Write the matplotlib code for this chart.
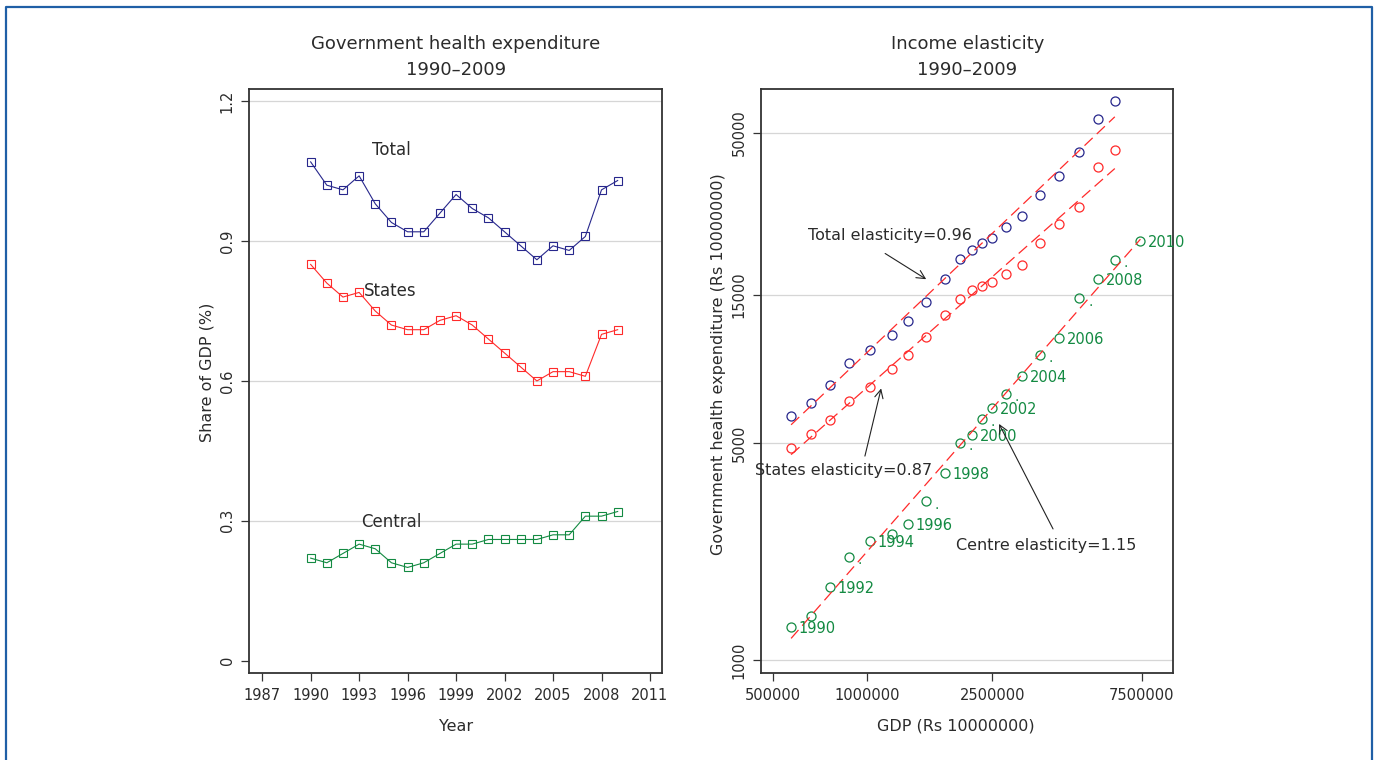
# 导入必要的库
import numpy as np
import matplotlib
matplotlib.use('Agg')
import matplotlib.pyplot as plt
from matplotlib.lines import Line2D
from matplotlib.ticker import NullLocator

plt.rcParams['font.family'] = ['DejaVu Sans']

# 左图数据：占GDP的比重 (%)
years = list(range(1990, 2010))
share_total = [1.07, 1.02, 1.01, 1.04, 0.98, 0.94, 0.92, 0.92, 0.96, 1.00,
               0.97, 0.95, 0.92, 0.89, 0.86, 0.89, 0.88, 0.91, 1.01, 1.03]
share_states = [0.85, 0.81, 0.78, 0.79, 0.75, 0.72, 0.71, 0.71, 0.73, 0.74,
                0.72, 0.69, 0.66, 0.63, 0.60, 0.62, 0.62, 0.61, 0.70, 0.71]
share_central = [0.22, 0.21, 0.23, 0.25, 0.24, 0.21, 0.20, 0.21, 0.23, 0.25,
                 0.25, 0.26, 0.26, 0.26, 0.26, 0.27, 0.27, 0.31, 0.31, 0.32]

# 右图数据：GDP 与政府卫生支出 (Rs 10000000)
gdp = [571000, 661500, 759000, 874500, 1018000, 1196000, 1345000, 1539000,
       1765000, 1970000, 2157000, 2322000, 2504000, 2769000, 3108000,
       3554000, 4096000, 4742000, 5454000, 6151000, 7424000]
exp_total = [6105, 6743, 7683, 9071, 10009, 11127, 12346, 14211, 16904, 19609,
             20960, 22076, 22909, 24785, 26970, 31580, 36360, 43440, 55480, 63070]
exp_states = [4829, 5358, 5957, 6859, 7592, 8677, 9623, 11000, 12947, 14604,
              15578, 16048, 16483, 17546, 18797, 22076, 25338, 28890, 38660, 43860]
exp_centre = [1277, 1386, 1727, 2157, 2416, 2559, 2755, 3251, 4012, 5023, 5303,
              6000, 6512, 7208, 8211, 9623, 10917, 14637, 16943, 19465, 22455]
centre_years = list(range(1990, 2011))
# 奇数年份只显示一个小点（1991、1995 被相邻标签遮住）
dot_years = [1993, 1997, 1999, 2001, 2003, 2005, 2007, 2009]

x_ticks_left = list(range(1987, 2012, 3))
y_ticks_left = [0, 0.3, 0.6, 0.9, 1.2]
y_labels_left = ['0', '0.3', '0.6', '0.9', '1.2']
x_ticks_right = [500000, 1000000, 2500000, 7500000]
y_ticks_right = [1000, 5000, 15000, 50000]

navy = '#27278c'
red = '#ff2a2a'
green = '#138a42'
txt = '#2b2b2b'

fig = plt.figure(figsize=(13.74, 7.6), dpi=100)
ax1 = fig.add_axes([0.1814, 0.1145, 0.3006, 0.7688])
ax2 = fig.add_axes([0.5539, 0.1145, 0.3001, 0.7688])

# 外框
fig.add_artist(Line2D([0.0044, 0.0044, 0.9985, 0.9985], [0, 0.9908, 0.9908, 0],
                      transform=fig.transFigure, color='#1f5fa6', lw=1.6))

# ---------- 左图 ----------
for vals, col, name, pos in [(share_total, navy, 'Total', (1995, 1.095)),
                             (share_states, red, 'States', (1994.9, 0.794)),
                             (share_central, green, 'Central', (1995, 0.298))]:
    ax1.plot(years, vals, color=col, lw=0.8, marker='s', ms=5.5, mfc='none',
             mec=col, mew=0.8)
    ax1.text(pos[0], pos[1], name, ha='center', va='center', fontsize=12, color=txt)

ax1.set_xlim(1986.2, 2011.76)
ax1.set_ylim(-0.0264, 1.227)
ax1.set_xticks(x_ticks_left)
ax1.set_yticks(y_ticks_left)
ax1.set_yticklabels(y_labels_left)
ax1.yaxis.grid(True, color='#d6d6d6', lw=0.9)
ax1.get_ygridlines()[0].set_visible(False)
ax1.set_xlabel('Year', fontsize=11.5, color=txt)
ax1.set_ylabel('Share of GDP (%)', fontsize=11.5, color=txt)
ax1.xaxis.set_label_coords(0.5, -0.0914)
ax1.yaxis.set_label_coords(-0.103, 0.515)
ax1.text(0.5, 1.077, 'Government health expenditure', transform=ax1.transAxes,
         ha='center', va='center', fontsize=13, color=txt)
ax1.text(0.5, 1.0325, '1990\u20132009', transform=ax1.transAxes,
         ha='center', va='center', fontsize=13, color=txt)

# ---------- 右图 ----------
ax2.set_xscale('log')
ax2.set_yscale('log')
gdp = np.array(gdp)
for ex, col in [(exp_total, navy), (exp_states, red), (exp_centre, green)]:
    gx = gdp[:len(ex)]
    ey = np.array(ex)
    ax2.plot(gx, ey, ls='none', marker='o', ms=6.5, mfc='none', mec=col, mew=0.9)
    # 对数线性拟合 (弹性)
    b, a = np.polyfit(np.log(gx), np.log(ey), 1)
    xs = np.array([gx.min(), gx.max()])
    ax2.plot(xs, np.exp(a) * xs ** b, color=red, lw=0.9, ls=(0, (9, 4.5)))

# 中央支出的年份标签
for g, e, yr in zip(gdp, exp_centre, centre_years):
    if yr % 2 == 0:
        ax2.annotate(str(yr), (g, e), xytext=(5.5, -1), textcoords='offset points',
                     ha='left', va='center', fontsize=10.5, color=green)
    elif yr in dot_years:
        ax2.annotate('.', (g, e), xytext=(6.3, -5.3), textcoords='offset points',
                     ha='left', va='baseline', fontsize=10, color=green)

# 弹性注释
arrow = dict(arrowstyle='->,head_length=0.6,head_width=0.3', color='#222222', lw=0.8)
ax2.text(0.3129, 0.7489, 'Total elasticity=0.96', transform=ax2.transAxes,
         ha='center', va='center', fontsize=11.5, color=txt)
ax2.annotate('', xy=(0.4062, 0.6714), xytext=(0.2952, 0.7205),
             xycoords='axes fraction', textcoords='axes fraction', arrowprops=arrow)
ax2.text(0.1996, 0.3461, 'States elasticity=0.87', transform=ax2.transAxes,
         ha='center', va='center', fontsize=11.5, color=txt)
ax2.annotate('', xy=(0.2928, 0.4916), xytext=(0.2503, 0.3666),
             xycoords='axes fraction', textcoords='axes fraction', arrowprops=arrow)
ax2.text(0.6912, 0.2184, 'Centre elasticity=1.15', transform=ax2.transAxes,
         ha='center', va='center', fontsize=11.5, color=txt)
ax2.annotate('', xy=(0.5741, 0.4305), xytext=(0.7112, 0.2423),
             xycoords='axes fraction', textcoords='axes fraction', arrowprops=arrow)

ax2.set_xlim(458000, 9458000)
ax2.set_ylim(911, 69300)
ax2.set_xticks(x_ticks_right)
ax2.set_xticklabels([str(v) for v in x_ticks_right])
ax2.set_yticks(y_ticks_right)
ax2.set_yticklabels([str(v) for v in y_ticks_right])
ax2.xaxis.set_minor_locator(NullLocator())
ax2.yaxis.set_minor_locator(NullLocator())
ax2.yaxis.grid(True, color='#d6d6d6', lw=0.9)
ax2.set_xlabel('GDP (Rs 10000000)', fontsize=11.5, color=txt)
ax2.set_ylabel('Government health expenditure (Rs 10000000)', fontsize=11.5, color=txt)
ax2.xaxis.set_label_coords(0.472, -0.0914)
ax2.yaxis.set_label_coords(-0.1036, 0.529)
ax2.text(0.5, 1.077, 'Income elasticity', transform=ax2.transAxes,
         ha='center', va='center', fontsize=13, color=txt)
ax2.text(0.5, 1.0325, '1990\u20132009', transform=ax2.transAxes,
         ha='center', va='center', fontsize=13, color=txt)

# 公共样式
for ax in (ax1, ax2):
    ax.set_axisbelow(True)
    ax.tick_params(direction='out', length=5.5, width=0.9, color='#333333',
                   labelsize=10.5, labelcolor=txt, pad=5)
    ax.tick_params(axis='y', labelrotation=90)
    for lbl in ax.get_yticklabels():
        lbl.set_va('center')
    ax.xaxis.label.set_va('center')
    ax.yaxis.label.set_va('center')
    for s in ax.spines.values():
        s.set_linewidth(1.3)
        s.set_color('#333333')

plt.savefig('out.png', dpi=100, facecolor='white')
